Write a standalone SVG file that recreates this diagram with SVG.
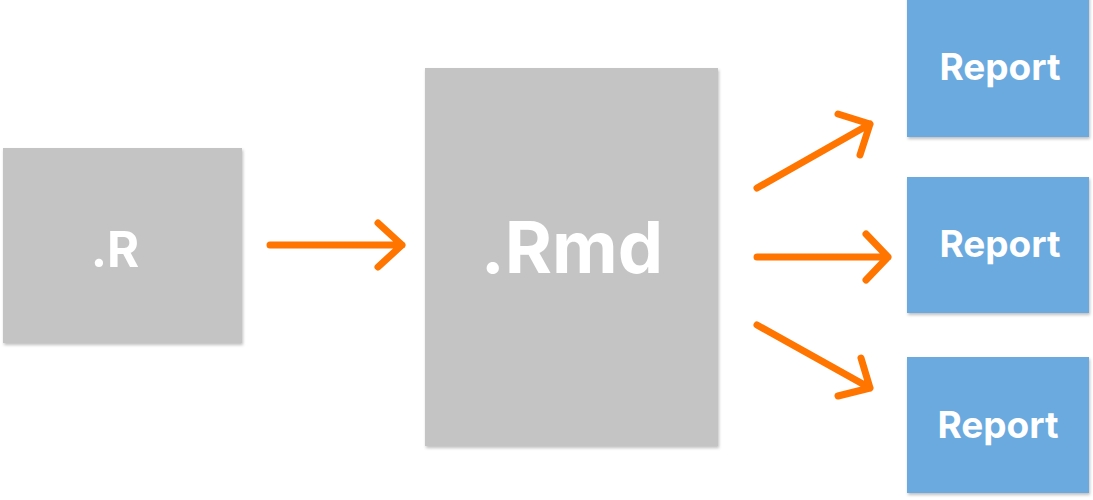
<svg xmlns="http://www.w3.org/2000/svg" width="1093" height="500" viewBox="0 0 1093 500">
<defs>
<filter id="sh" x="-5%" y="-5%" width="115%" height="115%">
<feDropShadow dx="1" dy="2" stdDeviation="1.5" flood-color="#000" flood-opacity="0.25"/>
</filter>
</defs>
<style>
.g{fill:#C4C4C4;filter:url(#sh)}
.b{fill:#6AAADF;filter:url(#sh)}
.t{fill:#fff;font-family:Inter,"Liberation Sans",sans-serif;font-weight:700;text-anchor:middle}
.a{fill:none;stroke:#FF7500;stroke-width:7;stroke-linecap:round;stroke-linejoin:round}
</style>
<rect width="1093" height="500" fill="#fff"/>
<g id="r">
<rect class="g" x="3" y="148" width="239" height="195"/>
<text class="t" x="115" y="267" font-size="49">.R</text>
</g>
<g id="rmd">
<rect class="g" x="425" y="68" width="293" height="378"/>
<text class="t" x="572" y="273" font-size="72">.Rmd</text>
</g>
<g id="report1">
<rect class="b" x="907" y="-5" width="182" height="142"/>
<text class="t" x="1000" y="80" font-size="37">Report</text>
</g>
<g id="report2">
<rect class="b" x="907" y="177" width="182" height="136"/>
<text class="t" x="1000" y="257" font-size="37">Report</text>
</g>
<g id="report3">
<rect class="b" x="907" y="357" width="182" height="136"/>
<text class="t" x="998" y="438" font-size="37">Report</text>
</g>
<g id="connectors">
<path class="a" d="M270,245 H402 M378,223 L402,245 L378,267"/>
<path class="a" d="M757,257 H888 M866,234 L888,257 L866,280"/>
<path class="a" d="M757,188 L870,124 M838,114 L870,124 L860,155"/>
<path class="a" d="M757,325 L870,388 M861,358 L870,388 L838,396"/>
</g>
</svg>
